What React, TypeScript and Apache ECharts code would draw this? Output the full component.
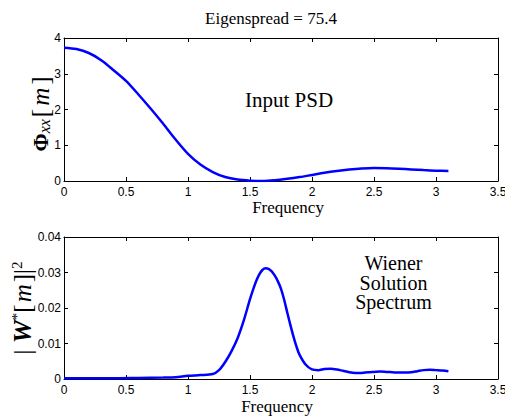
import React, { useEffect, useRef } from "react";
import * as echarts from "echarts";

// Top panel: input PSD
const psdFreq = [0, 0.1, 0.2, 0.3, 0.4, 0.5, 0.6, 0.7, 0.8, 0.9, 1.0, 1.1, 1.2, 1.3, 1.4, 1.5, 1.6, 1.7, 1.8, 1.9, 2.0, 2.1, 2.2, 2.3, 2.4, 2.5, 2.6, 2.7, 2.8, 2.9, 3.0, 3.1];
const psdValues = [3.73, 3.69, 3.58, 3.38, 3.1, 2.8, 2.42, 2.02, 1.6, 1.16, 0.76, 0.46, 0.25, 0.11, 0.04, 0.01, 0.0, 0.02, 0.06, 0.11, 0.17, 0.23, 0.28, 0.32, 0.35, 0.365, 0.36, 0.345, 0.325, 0.305, 0.29, 0.28];

// Bottom panel: Wiener solution spectrum
const wFreq = [0, 0.2, 0.4, 0.6, 0.8, 0.9, 1.0, 1.1, 1.2, 1.25, 1.3, 1.35, 1.4, 1.45, 1.5, 1.525, 1.55, 1.575, 1.6, 1.625, 1.65, 1.675, 1.7, 1.725, 1.75, 1.775, 1.8, 1.825, 1.85, 1.875, 1.9, 1.95, 2.0, 2.05, 2.1, 2.15, 2.2, 2.25, 2.3, 2.35, 2.4, 2.45, 2.5, 2.55, 2.6, 2.65, 2.7, 2.75, 2.8, 2.85, 2.9, 2.95, 3.0, 3.05, 3.1];
const wValues = [0.0002, 0.0002, 0.0002, 0.0003, 0.0004, 0.0005, 0.0009, 0.0011, 0.0014, 0.0025, 0.0048, 0.0078, 0.0115, 0.0165, 0.0225, 0.0252, 0.0276, 0.0295, 0.0307, 0.0312, 0.031, 0.0303, 0.0291, 0.0275, 0.0254, 0.0224, 0.0188, 0.0153, 0.012, 0.0091, 0.0068, 0.004, 0.0027, 0.0025, 0.0028, 0.0029, 0.0027, 0.0023, 0.0019, 0.0017, 0.0017, 0.0019, 0.002, 0.0021, 0.002, 0.0019, 0.0018, 0.0018, 0.0019, 0.0022, 0.0025, 0.0026, 0.0025, 0.0024, 0.0022];

const xTicks = { min: 0, max: 3.5, interval: 0.5 };
const yTopTicks = { min: 0, max: 4, interval: 1 };
const yBotTicks = { min: 0, max: 0.04, interval: 0.01 };

const titleText = "Eigenspread = 75.4";
const xName = "Frequency";
const topNote = "Input PSD";
const botNote = ["Wiener", "Solution", "Spectrum"];

const SERIF = "'Liberation Serif', 'Times New Roman', serif";
const SANS = "'Liberation Sans', Arial, sans-serif";

export default function App() {
  const ref = useRef<HTMLDivElement>(null);
  useEffect(() => {
    if (!ref.current) return;
    const chart = echarts.init(ref.current, undefined, { renderer: "svg" });
    const axisLine = { show: true, onZero: false, lineStyle: { color: "#000", width: 1 } };
    const tick = { show: true, inside: true, length: 4, lineStyle: { color: "#000" } };
    const lbl = { color: "#000", fontFamily: SANS, fontSize: 12 };
    const mkX = (gi: number, pos: string, show: boolean) => ({
      type: "value", gridIndex: gi, position: pos, ...xTicks,
      axisLine, axisTick: tick, splitLine: { show: false },
      axisLabel: show ? { ...lbl, margin: 5 } : { show: false },
    });
    const mkY = (gi: number, pos: string, show: boolean, t: any) => ({
      type: "value", gridIndex: gi, position: pos, ...t,
      axisLine, axisTick: tick, splitLine: { show: false },
      axisLabel: show ? { ...lbl, margin: 3 } : { show: false },
    });
    chart.setOption({
      animation: false,
      backgroundColor: "#fff",
      grid: [
        { left: 64, top: 38, width: 434, height: 143, containLabel: false, outerBoundsMode: "none" },
        { left: 64, top: 237, width: 434, height: 142, containLabel: false, outerBoundsMode: "none" },
      ],
      xAxis: [mkX(0, "bottom", true), mkX(0, "top", false), mkX(1, "bottom", true), mkX(1, "top", false)],
      yAxis: [
        mkY(0, "left", true, yTopTicks), mkY(0, "right", false, yTopTicks),
        mkY(1, "left", true, yBotTicks), mkY(1, "right", false, yBotTicks),
      ],
      series: [
        {
          type: "line", xAxisIndex: 0, yAxisIndex: 0, showSymbol: false, smooth: 0.3,
          lineStyle: { color: "#0000ff", width: 2.5 },
          data: psdFreq.map((f, i) => [f, psdValues[i]]),
        },
        {
          type: "line", xAxisIndex: 2, yAxisIndex: 2, showSymbol: false, smooth: 0.3,
          lineStyle: { color: "#0000ff", width: 2.5 },
          data: wFreq.map((f, i) => [f, wValues[i]]),
        },
      ],
      graphic: [
        { type: "text", x: 271, y: 18, style: { text: titleText, font: `17px ${SERIF}`, fill: "#000", align: "center", verticalAlign: "middle" } },
        { type: "text", x: 288, y: 207, style: { text: xName, font: `17px ${SERIF}`, fill: "#000", align: "center", verticalAlign: "middle" } },
        { type: "text", x: 277, y: 406, style: { text: xName, font: `17px ${SERIF}`, fill: "#000", align: "center", verticalAlign: "middle" } },
        { type: "text", x: 289, y: 100, style: { text: topNote, font: `21px ${SERIF}`, fill: "#000", align: "center", verticalAlign: "middle" } },
        ...botNote.map((t, i) => ({
          type: "text", x: 393.5, y: 263 + i * 19.5,
          style: { text: t, font: `20px ${SERIF}`, fill: "#000", align: "center", verticalAlign: "middle" },
        })),
        {
          type: "text", x: 40, y: 114, rotation: Math.PI / 2,
          style: {
            text: "{phi|Φ}{sub|xx}{br|[}{mi|m}{br|]}",
            align: "center", verticalAlign: "middle", fill: "#000",
            rich: {
              phi: { fontFamily: SERIF, fontSize: 22, fontWeight: "bold", fill: "#000", verticalAlign: "middle" },
              sub: { fontFamily: SERIF, fontSize: 16, fontStyle: "italic", fill: "#000", padding: [8, 2, 0, 0], verticalAlign: "bottom" },
              br: { fontFamily: SERIF, fontSize: 25, fill: "#000", verticalAlign: "middle" },
              mi: { fontFamily: SERIF, fontSize: 25, fontStyle: "italic", fill: "#000", padding: [0, 3, 0, 3], verticalAlign: "middle" },
            },
          },
        },
        {
          type: "text", x: 22, y: 308, rotation: Math.PI / 2,
          style: {
            text: "{br|| }{w|W}{sup|*}{br|[}{mi|m}{br|]}{br||}{sup|2}",
            align: "center", verticalAlign: "middle", fill: "#000",
            rich: {
              br: { fontFamily: SERIF, fontSize: 25, fill: "#000", verticalAlign: "middle" },
              w: { fontFamily: SERIF, fontSize: 26, fontWeight: "bold", fontStyle: "italic", fill: "#000", verticalAlign: "middle" },
              sup: { fontFamily: SERIF, fontSize: 15, fill: "#000", padding: [0, 0, 10, 0], verticalAlign: "top" },
              mi: { fontFamily: SERIF, fontSize: 25, fontStyle: "italic", fill: "#000", padding: [0, 2, 0, 2], verticalAlign: "middle" },
            },
          },
        },
      ],
    });
    return () => chart.dispose();
  }, []);
  return (
    <div
      ref={ref}
      style={{ position: "fixed", left: 0, top: 0, width: 505, height: 416, background: "#fff" }}
    />
  );
}
